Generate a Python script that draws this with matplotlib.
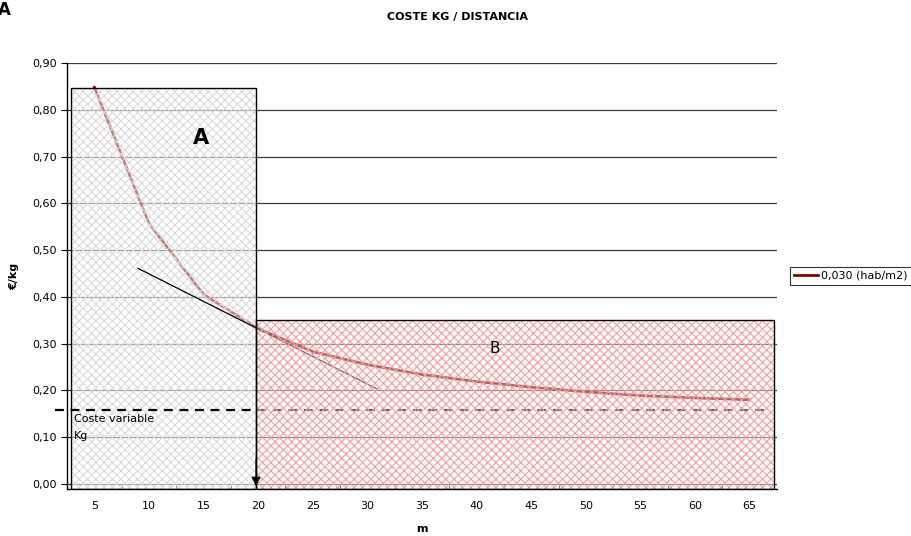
import matplotlib
matplotlib.use('Agg')
import matplotlib.pyplot as plt
from matplotlib.patches import Rectangle

# coste por kg segun distancia (m)
distancia = [5, 10, 15, 20, 25, 30, 35, 40, 45, 50, 55, 60, 65]
coste_kg = [0.848, 0.557, 0.405, 0.332, 0.283, 0.255, 0.234, 0.219, 0.207, 0.197, 0.189, 0.184, 0.180]
serie_label = '0,030 (hab/m2)'

# tangente en el punto de 20 m
tangente_x = [9.0, 30.9]
tangente_y = [0.461, 0.203]

coste_variable = 0.158
yticks = [0.0, 0.1, 0.2, 0.3, 0.4, 0.5, 0.6, 0.7, 0.8, 0.9]

# zonas A y B (x0, x1, y_top)
zona_a = (2.85, 19.8, 0.846)
zona_b = (19.8, 67.25, 0.350)

plt.rcParams['font.family'] = 'DejaVu Sans'
plt.rcParams['hatch.linewidth'] = 0.8

fig = plt.figure(figsize=(9.12, 5.36), dpi=100)
ax = fig.add_axes([0.0735, 0.0877, 0.7785, 0.7948])

ybot = -0.0107
ax.set_xlim(2.5, 67.5)
ax.set_ylim(ybot, 0.9)

for v in yticks:
    ax.axhline(v, color='#3c3c3c', lw=0.9, zorder=0.5)

ax.plot(distancia, coste_kg, color='#8b0000', lw=2.0, zorder=1, label=serie_label)

# zona A
ax.add_patch(Rectangle((zona_a[0], ybot), zona_a[1] - zona_a[0], zona_a[2] - ybot,
                       facecolor=(1, 1, 1, 0.5), edgecolor='#dadada', lw=0, hatch='xxxx', zorder=2))

ax.plot(tangente_x, tangente_y, color='black', lw=0.9, zorder=3)
ax.plot([1.4, 66.5], [coste_variable, coste_variable], color='black', lw=1.6,
        ls=(0, (4, 3)), zorder=3, clip_on=False)

# zona B
ax.add_patch(Rectangle((zona_b[0], ybot), zona_b[1] - zona_b[0], zona_b[2] - ybot,
                       facecolor=(1, 1, 1, 0.4), edgecolor='#ff9a9a', lw=0, hatch='xxxx', zorder=4))

for x0, x1, top in (zona_a, zona_b):
    ax.add_patch(Rectangle((x0, ybot), x1 - x0, top - ybot, fill=False,
                           edgecolor='black', lw=1.0, zorder=5))

ax.annotate('', xy=(19.8, ybot), xytext=(19.8, 0.06),
            arrowprops=dict(arrowstyle='-|>', color='black', lw=0.8, mutation_scale=14), zorder=6)

ax.text(14.8, 0.74, 'A', fontsize=15, fontweight='bold', ha='center', va='center', zorder=6)
ax.text(41.7, 0.29, 'B', fontsize=11, ha='center', va='center', zorder=6)
ax.text(3.1, 0.150, 'Coste variable\nKg', fontsize=8, ha='left', va='top',
        linespacing=1.9, zorder=6)

for s in ('top', 'right'):
    ax.spines[s].set_visible(False)
ax.spines['left'].set_linewidth(1.0)
ax.spines['bottom'].set_linewidth(1.0)
ax.spines['left'].set_zorder(6)
ax.spines['bottom'].set_zorder(6)

ax.set_yticks(yticks)
ax.set_yticklabels([('%.2f' % v).replace('.', ',') for v in yticks])
ax.set_xticks(distancia)
ax.set_xticklabels([str(d) for d in distancia])
ax.set_xticks([d + 2.5 for d in distancia[:-1]], minor=True)
ax.tick_params(axis='y', direction='out', length=4, labelsize=8)
ax.tick_params(axis='x', which='major', length=0, labelsize=8, pad=9)
ax.tick_params(axis='x', which='minor', direction='in', length=3)

ax.set_xlabel('m', fontsize=8, fontweight='bold', labelpad=9)
ax.set_ylabel('€/kg', fontsize=8, fontweight='bold', labelpad=9)

fig.text(0.502, 0.968, 'COSTE KG / DISTANCIA', fontsize=8, fontweight='bold',
         ha='center', va='center')
fig.text(-0.002, 0.981, 'A', fontsize=12, fontweight='bold', ha='left', va='center')

leg = ax.legend(loc='center left', bbox_to_anchor=(1.01, 0.5), fontsize=8,
                frameon=True, fancybox=False, handlelength=2.2, borderpad=0.35,
                handletextpad=0.3)
leg.get_frame().set_edgecolor('black')
leg.get_frame().set_linewidth(0.8)

fig.savefig('out.png', dpi=100)
